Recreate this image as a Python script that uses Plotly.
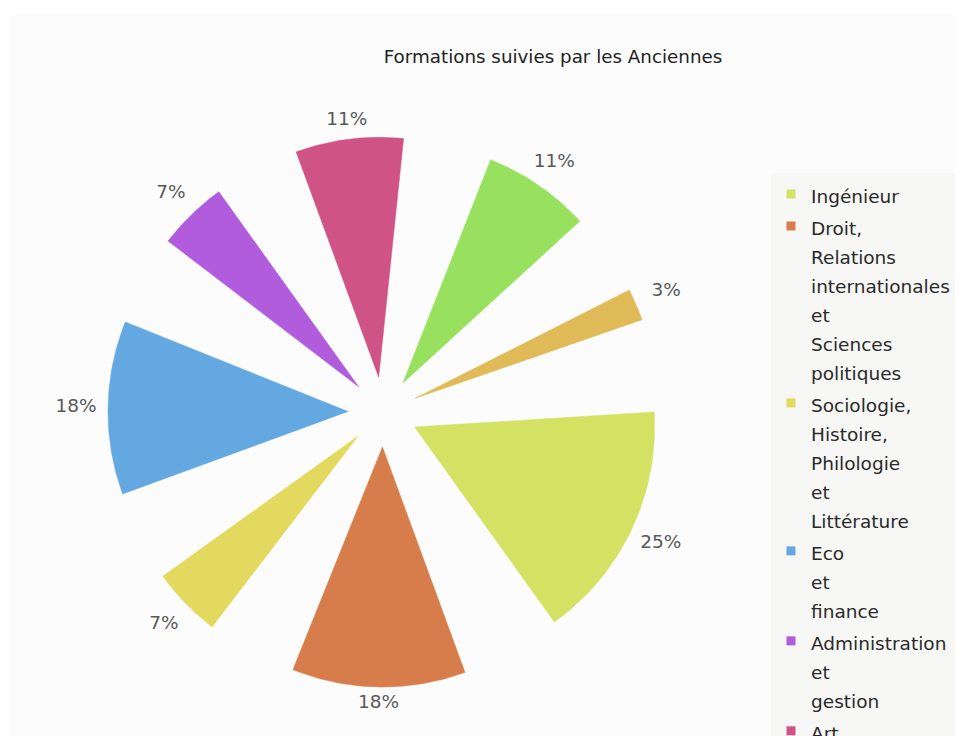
import numpy as np
import plotly.graph_objects as go

# ---------------- data ----------------
chart_title = "Formations suivies par les Anciennes"
categories = [
    "Ingénieur",
    "Droit, Relations internationales et Sciences politiques",
    "Sociologie, Histoire, Philologie et Littérature",
    "Eco et finance",
    "Administration et gestion",
    "Art",
    "Médecine",
    "Autres",
]
values = [25, 18, 7, 18, 7, 11, 11, 3]
colors = ["#d3e263", "#d67d4b", "#e3d95e", "#63a8e0", "#b05cdc", "#d05385", "#98e15f", "#dfba56"]

# ---------------- layout / geometry settings ----------------
W, H = 963, 736
OFF = 8                   # page body margin
ML, MT = 10 - OFF, 14 - OFF
S = 240.0                 # pixels per unit (wedge radius = 1)
CX, CY = 383 - OFF, 412 - OFF   # pie centre in figure pixels
FILL_FRAC = 0.633         # share of the circle covered by the (scaled) wedges
MIN_SPAN = 1.0            # extra degrees added to every wedge
START_DEG = 3.6           # start angle (counter-clockwise from east), slices go clockwise
PULL = 35 / S             # apex offset from centre

plot_w, plot_h = W - ML, H - MT
x_range = [-(CX - ML) / S, (W - CX) / S]
y_range = [-(H - CY) / S, (CY - MT) / S]

total = float(sum(values))
n = len(values)
gap_deg = (360.0 - FILL_FRAC * 360.0 - n * MIN_SPAN) / n

fig = go.Figure()

theta = START_DEG
label_x, label_y, label_t = [], [], []
for cat, v, col in zip(categories, values, colors):
    span = v / total * 360.0 * FILL_FRAC + MIN_SPAN
    t0, t1 = theta, theta - span
    mid = np.radians((t0 + t1) / 2)
    ax, ay = PULL * np.cos(mid), PULL * np.sin(mid)
    arc = np.radians(np.linspace(t0, t1, 60))
    xs = np.concatenate([[ax], ax + np.cos(arc), [ax]])
    ys = np.concatenate([[ay], ay + np.sin(arc), [ay]])
    fig.add_trace(go.Scatter(
        x=xs, y=ys, mode="lines", fill="toself", fillcolor=col,
        line=dict(color=col, width=0.5), showlegend=False, hoverinfo="skip",
        name=cat))
    rl = (285 + 22 * abs(np.cos(mid)) + 6 * abs(np.sin(mid))) / S
    label_x.append(rl * np.cos(mid))
    label_y.append(rl * np.sin(mid))
    label_t.append(f"{round(v / total * 100)}%")
    theta = t1 - gap_deg

fig.add_trace(go.Scatter(
    x=label_x, y=label_y, text=label_t, mode="text", textposition="middle center",
    textfont=dict(family="DejaVu Sans", size=18.5, color="#585858"),
    showlegend=False, hoverinfo="skip"))

# legend entries
for cat, col in zip(categories, colors):
    lbl = "<br>".join(f"<span style='font-size:18.5px'>{w}</span>" for w in cat.split(" "))
    fig.add_trace(go.Scatter(
        x=[None], y=[None], mode="markers",
        marker=dict(symbol="square", size=9, color=col),
        name=lbl, showlegend=True))

LEG_LEFT, LEG_TOP = 771 - OFF, 173 - OFF

fig.update_layout(
    width=W, height=H,
    margin=dict(l=ML, r=0, t=MT, b=0, pad=0, autoexpand=False),
    paper_bgcolor="white", plot_bgcolor="#fcfcfc",
    xaxis=dict(range=x_range, visible=False, fixedrange=True),
    yaxis=dict(range=y_range, visible=False, fixedrange=True),
    title=dict(text=chart_title, x=(553 - OFF) / W, xanchor="center",
               y=1 - (57 - OFF) / H, yanchor="middle",
               font=dict(family="DejaVu Sans", size=18.3, color="#222222")),
    legend=dict(
        x=(LEG_LEFT - ML) / plot_w, xanchor="left",
        y=1 - (LEG_TOP - MT) / plot_h, yanchor="top",
        bgcolor="#f7f7f5", borderwidth=0,
        font=dict(family="DejaVu Sans", size=22.3, color="#2a2a2a"),
        valign="top", maxheight=2000,
    ),
    showlegend=True,
)

fig.write_html("out.html")
